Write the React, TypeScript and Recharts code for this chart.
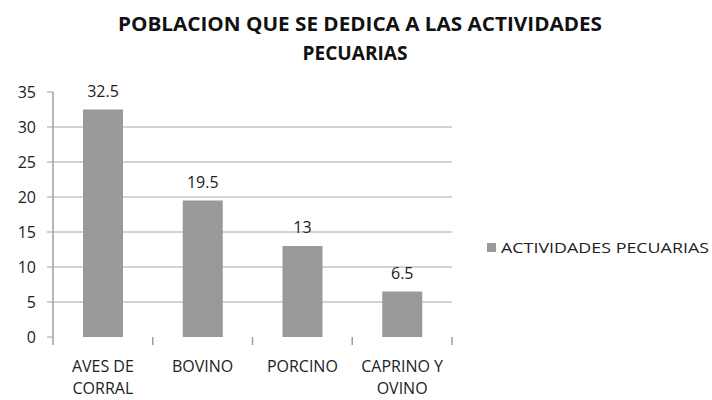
import React from "react";
import { BarChart, Bar, XAxis, YAxis, CartesianGrid, LabelList } from "recharts";

const categories = ["AVES DE\nCORRAL", "BOVINO", "PORCINO", "CAPRINO Y\nOVINO"];
const values = [32.5, 19.5, 13, 6.5];
const yTicks = [0, 5, 10, 15, 20, 25, 30, 35];
const gridValues = [5, 10, 15, 20, 25, 30];
const seriesName = "ACTIVIDADES PECUARIAS";
const titleLines = ["POBLACION QUE SE DEDICA A LAS ACTIVIDADES", "PECUARIAS"];

const data = categories.map((c, i) => ({ name: c, value: values[i] }));

const W = 712;
const H = 400;
const margin = { top: 92, right: 260, bottom: 0, left: 0 };
const xAxisHeight = 63;
const yAxisWidth = 53;
const plotWidth = W - margin.left - margin.right - yAxisWidth;
const halfBand = plotWidth / categories.length / 2;

const FONT = "'Open Sans', 'DejaVu Sans', sans-serif";

const XTick = (props: any) => {
  const { x, y, payload, index } = props;
  const lines = String(payload.value).split("\n");
  return (
    <g>
      <line x1={x - halfBand} x2={x - halfBand} y1={y} y2={y + 8} stroke="#a0a0a0" strokeWidth={1.5} />
      {index === categories.length - 1 && (
        <line x1={x + halfBand} x2={x + halfBand} y1={y} y2={y + 8} stroke="#a0a0a0" strokeWidth={1.5} />
      )}
      {lines.map((l, i) => (
        <text key={i} x={x} y={y + 35 + i * 22} textAnchor="middle" fontSize={16} fill="#222" fontFamily={FONT}>
          {l}
        </text>
      ))}
    </g>
  );
};

export default function App() {
  return (
    <div style={{ position: "absolute", left: 0, top: 0, width: W, height: H, background: "#fff" }}>
      <BarChart width={W} height={H} data={data} margin={margin}>
        <CartesianGrid horizontal vertical={false} stroke="#a6a6a6" horizontalValues={gridValues} />
        <XAxis
          dataKey="name"
          axisLine={false}
          tickLine={false}
          tick={<XTick />}
          tickSize={0}
          tickMargin={0}
          interval={0}
          height={xAxisHeight}
        />
        <YAxis
          domain={[0, 35]}
          ticks={yTicks}
          width={yAxisWidth}
          axisLine={{ stroke: "#a0a0a0", strokeWidth: 1.5 }}
          tickLine={{ stroke: "#a0a0a0" }}
          tickSize={6}
          tickMargin={11}
          tick={{ fontSize: 16, fill: "#222", fontFamily: FONT }}
          interval={0}
        />
        <Bar dataKey="value" fill="#999999" barSize={40} isAnimationActive={false}>
          <LabelList dataKey="value" position="top" offset={13} fontSize={16} fill="#222" fontFamily={FONT} />
        </Bar>
      </BarChart>
      <svg width={W} height={H} style={{ position: "absolute", left: 0, top: 0, pointerEvents: "none" }}>
        <text x={360} y={31} textAnchor="middle" fontSize={19} fontWeight="bold" fill="#111" fontFamily={FONT} textLength={484} lengthAdjust="spacingAndGlyphs">
          {titleLines[0]}
        </text>
        <text x={355} y={60} textAnchor="middle" fontSize={19} fontWeight="bold" fill="#111" fontFamily={FONT} textLength={105} lengthAdjust="spacingAndGlyphs">
          {titleLines[1]}
        </text>
        <rect x={487} y={243} width={9} height={9} fill="#999999" />
        <text x={501} y={253} fontSize={15} fill="#222" fontFamily={FONT} textLength={208} lengthAdjust="spacingAndGlyphs">
          {seriesName}
        </text>
      </svg>
    </div>
  );
}
